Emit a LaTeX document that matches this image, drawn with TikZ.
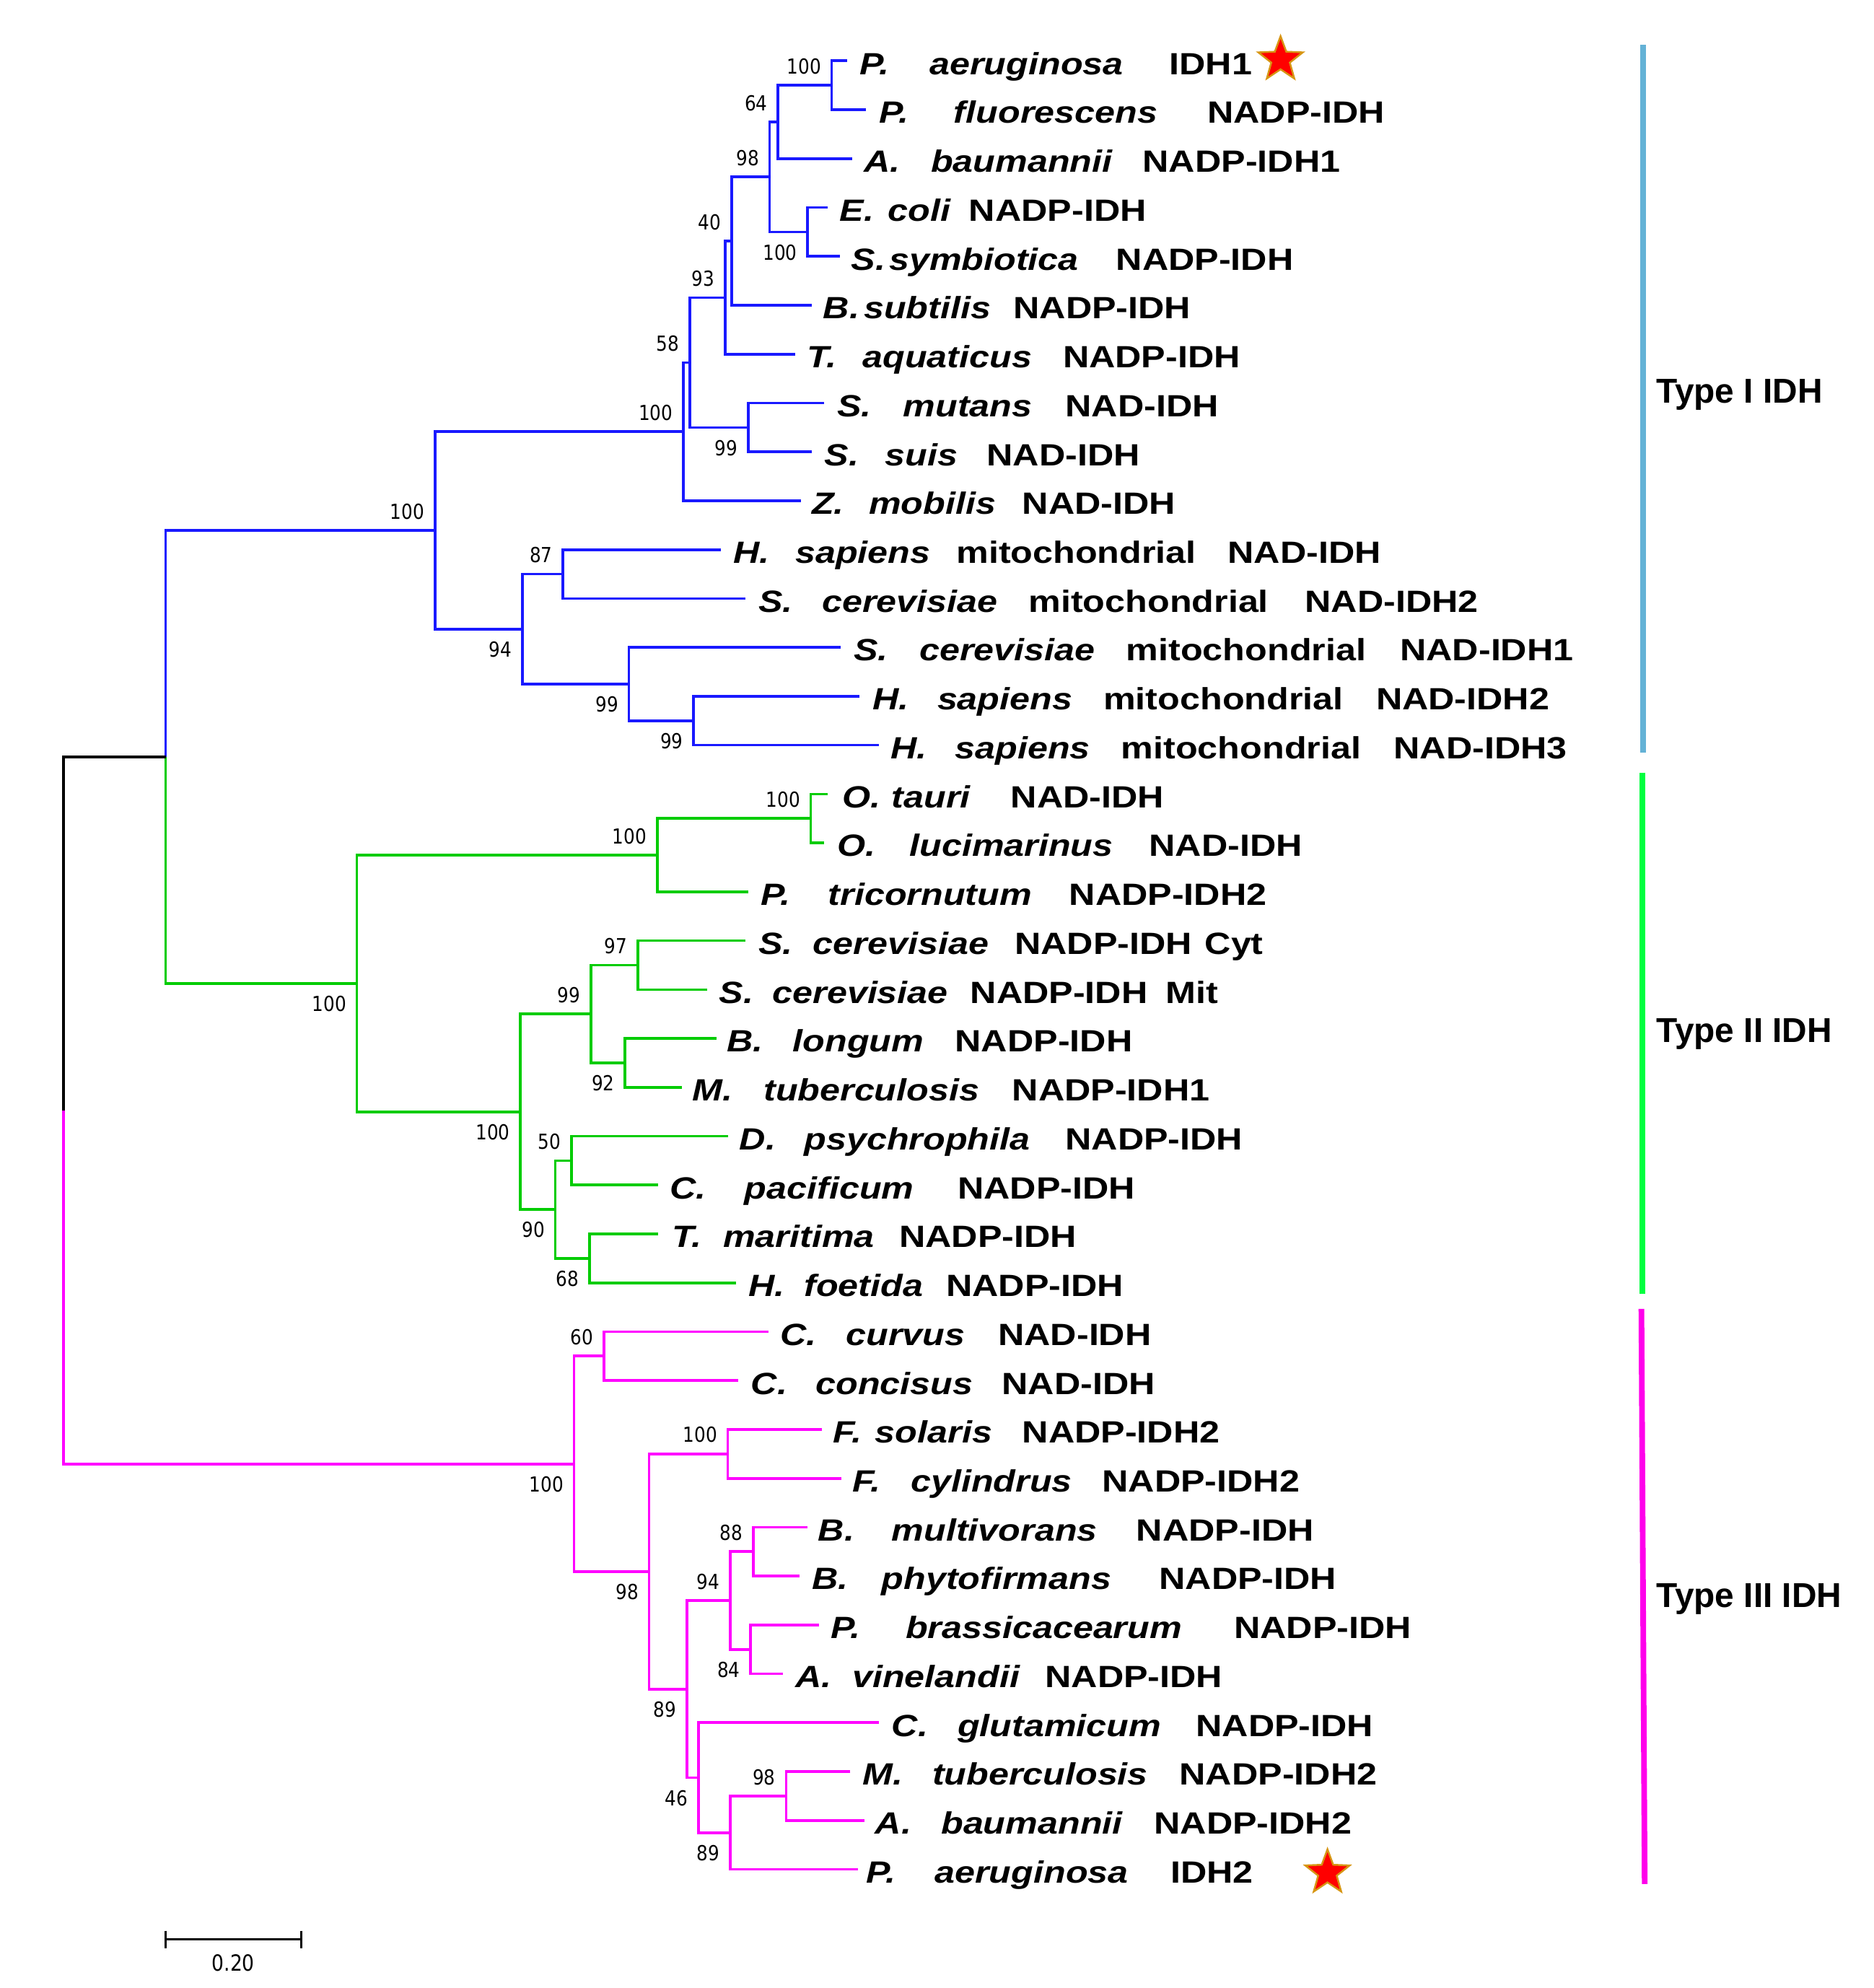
\documentclass[tikz,border=0pt]{standalone}
\usepackage{fontspec}
\setmainfont{Liberation Sans}
\newfontfamily\leaffont{Liberation Sans}[FakeStretch=1.18]
\newfontfamily\bsfont{DejaVu Sans}[FakeStretch=0.86]
\usetikzlibrary{calc,shapes.geometric}
\newlength\pxu
\setlength\pxu{0.02cm}
\newcommand{\wb}[2]{\makebox[#1\pxu][l]{#2}}
\newcommand{\ii}[1]{\textit{#1}}
\definecolor{tblue}{RGB}{25,25,255}
\definecolor{tgreen}{RGB}{0,204,0}
\definecolor{tpink}{RGB}{255,0,255}
\definecolor{barblue}{RGB}{100,178,214}
\definecolor{bargreen}{RGB}{0,255,64}
\definecolor{barpink}{RGB}{255,0,235}
\definecolor{starline}{RGB}{215,150,20}
\tikzset{
  br/.style={line width=1.2pt},
  leaf/.style={anchor=base west,inner sep=0pt,font=\leaffont\bfseries\fontsize{13.8}{16}\selectfont},
  bs/.style={anchor=east,inner sep=0pt,font=\bsfont\fontsize{9.3}{11}\selectfont},
  typ/.style={anchor=base west,inner sep=0pt,font=\bfseries\fontsize{15.5}{18}\selectfont},
  bar/.style={line width=2.55pt},
  idhstar/.style={star,star points=5,star point ratio=2.4,fill=red,draw=starline,line width=0.8pt,minimum size=21pt,inner sep=0pt}
}
\begin{document}
\begin{tikzpicture}[x=0.02cm,y=-0.02cm]
\useasboundingbox (0,0) rectangle (1478,1568);
% leaf tips
\coordinate (l1) at (668,48.0);
\coordinate (l2) at (683,86.6);
\coordinate (l3) at (672,125.1);
\coordinate (l4) at (653,163.7);
\coordinate (l5) at (662.5,202.2);
\coordinate (l6) at (640,240.8);
\coordinate (l7) at (627,279.3);
\coordinate (l8) at (650,317.9);
\coordinate (l9) at (640,356.4);
\coordinate (l10) at (632,395.0);
\coordinate (l11) at (568.6,433.5);
\coordinate (l12) at (588,472.1);
\coordinate (l13) at (663,510.6);
\coordinate (l14) at (678,549.2);
\coordinate (l15) at (693,587.7);
\coordinate (l16) at (653,626.3);
\coordinate (l17) at (650,664.8);
\coordinate (l18) at (590,703.4);
\coordinate (l19) at (588,741.9);
\coordinate (l20) at (557.5,780.5);
\coordinate (l21) at (565,819.0);
\coordinate (l22) at (538,857.6);
\coordinate (l23) at (574.3,896.1);
\coordinate (l24) at (519,934.7);
\coordinate (l25) at (519,973.2);
\coordinate (l26) at (580.4,1011.8);
\coordinate (l27) at (606,1050.3);
\coordinate (l28) at (582.5,1088.9);
\coordinate (l29) at (648.5,1127.4);
\coordinate (l30) at (663.6,1166.0);
\coordinate (l31) at (636.7,1204.5);
\coordinate (l32) at (630.6,1243.1);
\coordinate (l33) at (646,1281.6);
\coordinate (l34) at (617.8,1320.2);
\coordinate (l35) at (693,1358.7);
\coordinate (l36) at (670.7,1397.3);
\coordinate (l37) at (681.6,1435.8);
\coordinate (l38) at (676.8,1474.4);
% internal nodes
\coordinate (N10) at (656,67.3);
\coordinate (N9) at (613.6,96.2);
\coordinate (N8) at (637,183.0);
\coordinate (N7) at (607,139.6);
\coordinate (N6) at (577,190.2);
\coordinate (N5) at (572,234.8);
\coordinate (N4) at (590,337.2);
\coordinate (N3) at (544,286.0);
\coordinate (N2) at (539,340.5);
\coordinate (N12) at (444,452.8);
\coordinate (N14) at (547,568.5);
\coordinate (N13) at (496,539.5);
\coordinate (N11) at (412,496.2);
\coordinate (N1) at (343,418.3);
\coordinate (G3) at (639.4,645.6);
\coordinate (G2) at (518.3,674.5);
\coordinate (G6) at (503,761.2);
\coordinate (G7) at (493,838.3);
\coordinate (G5) at (466,799.7);
\coordinate (G9) at (450.8,915.4);
\coordinate (G10) at (465,992.5);
\coordinate (G8) at (438,954.0);
\coordinate (G4) at (410.5,876.9);
\coordinate (G1) at (281.4,775.7);
\coordinate (A) at (130.7,597.0);
\coordinate (P2) at (476.3,1069.6);
\coordinate (P4) at (574,1146.7);
\coordinate (P7) at (594,1223.8);
\coordinate (P8) at (592,1300.9);
\coordinate (P6) at (575.9,1262.4);
\coordinate (P11) at (620,1416.6);
\coordinate (P10) at (575.9,1445.5);
\coordinate (P9) at (550.8,1402.1);
\coordinate (P5) at (541.8,1332.3);
\coordinate (P3) at (512,1239.5);
\coordinate (P1) at (452.7,1154.6);
\coordinate (R) at (50,875.8);
% branches: blue
\begin{scope}[br,tblue]
\draw (l1) -| (N10) |- (l2);
\draw (N10) -| (N9) |- (l3);
\draw (l4) -| (N8) |- (l5);
\draw (N9) -| (N7) |- (N8);
\draw (N7) -| (N6) |- (l6);
\draw (N6) -| (N5) |- (l7);
\draw (l8) -| (N4) |- (l9);
\draw (N5) -| (N3) |- (N4);
\draw (N3) -| (N2) |- (l10);
\draw (l11) -| (N12) |- (l12);
\draw (l14) -| (N14) |- (l15);
\draw (l13) -| (N13) |- (N14);
\draw (N12) -| (N11) |- (N13);
\draw (N2) -| (N1) |- (N11);
\draw (N1) -| (A);
\end{scope}
% green
\begin{scope}[br,tgreen]
\draw (A) |- (G1);
\draw (l16) -| (G3) |- (l17);
\draw (G3) -| (G2) |- (l18);
\draw (l19) -| (G6) |- (l20);
\draw (l21) -| (G7) |- (l22);
\draw (G6) -| (G5) |- (G7);
\draw (l23) -| (G9) |- (l24);
\draw (l25) -| (G10) |- (l26);
\draw (G9) -| (G8) |- (G10);
\draw (G5) -| (G4) |- (G8);
\draw (G2) -| (G1) |- (G4);
\end{scope}
% root
\draw[br,black] (A) -| (R);
\begin{scope}[br,tpink]
\draw (R) |- (P1);
\draw (l27) -| (P2) |- (l28);
\draw (l29) -| (P4) |- (l30);
\draw (l31) -| (P7) |- (l32);
\draw (l33) -| (P8) |- (l34);
\draw (P7) -| (P6) |- (P8);
\draw (l36) -| (P11) |- (l37);
\draw (P11) -| (P10) |- (l38);
\draw (l35) -| (P9) |- (P10);
\draw (P6) -| (P5) |- (P9);
\draw (P4) -| (P3) |- (P5);
\draw (P2) -| (P1) |- (P3);
\end{scope}
% bootstrap values
\node[bs] (b1) at ($(N10)+(-8,-15)$) {100};
\node[bs] (b2) at ($(N9)+(-8,-15)$) {64};
\node[bs] (b3) at ($(N7)+(-8,-15)$) {98};
\node[bs] (b4) at ($(N6)+(-8,-15)$) {40};
\node[bs] (b5) at ($(N5)+(-8,-15)$) {93};
\node[bs] (b6) at ($(N3)+(-8,-15)$) {58};
\node[bs] (b7) at ($(N2)+(-8,-15)$) {100};
\node[bs] (b8) at ($(N1)+(-8,-15)$) {100};
\node[bs] (b9) at ($(N12)+(-8,-15)$) {87};
\node[bs] (b10) at ($(N8)+(-8,16)$) {100};
\node[bs] (b11) at ($(N4)+(-8,16)$) {99};
\node[bs] (b12) at ($(N11)+(-8,16)$) {94};
\node[bs] (b13) at ($(N13)+(-8,16)$) {99};
\node[bs] (b14) at ($(N14)+(-8,16)$) {99};
\node[bs] (b15) at ($(G3)+(-8,-15)$) {100};
\node[bs] (b16) at ($(G2)+(-8,-15)$) {100};
\node[bs] (b17) at ($(G6)+(-8,-15)$) {97};
\node[bs] (b18) at ($(G5)+(-8,-15)$) {99};
\node[bs] (b19) at ($(G9)+(-8,-15)$) {50};
\node[bs] (b20) at ($(G1)+(-8,16)$) {100};
\node[bs] (b21) at ($(G7)+(-8,16)$) {92};
\node[bs] (b22) at ($(G4)+(-8,16)$) {100};
\node[bs] (b23) at ($(G8)+(-8,16)$) {90};
\node[bs] (b24) at ($(G10)+(-8,16)$) {68};
\node[bs] (b25) at ($(P2)+(-8,-15)$) {60};
\node[bs] (b26) at ($(P4)+(-8,-15)$) {100};
\node[bs] (b27) at ($(P7)+(-8,-15)$) {88};
\node[bs] (b28) at ($(P6)+(-8,-15)$) {94};
\node[bs] (b29) at ($(P11)+(-8,-15)$) {98};
\node[bs] (b30) at ($(P1)+(-8,16)$) {100};
\node[bs] (b31) at ($(P3)+(-8,16)$) {98};
\node[bs] (b32) at ($(P8)+(-8,16)$) {84};
\node[bs] (b33) at ($(P5)+(-8,16)$) {89};
\node[bs] (b34) at ($(P9)+(-8,16)$) {46};
\node[bs] (b35) at ($(P10)+(-8,16)$) {89};
% leaf labels (baseline = line + 10.7)
\node[leaf] (t1) at (678,58.7) {\wb{55}{\ii{P.}}\wb{189}{\ii{aeruginosa}}IDH1};
\node[leaf] (t2) at (693,97.3) {\wb{59}{\ii{P.}}\wb{200}{\ii{fluorescens}}NADP-IDH};
\node[leaf] (t3) at (681,135.8) {\wb{53}{\ii{A.}}\wb{167}{\ii{baumannii}}NADP-IDH1};
\node[leaf] (t4) at (662,174.4) {\wb{38}{\ii{E.}}\wb{64}{\ii{coli}}NADP-IDH};
\node[leaf] (t5) at (671,212.9) {\wb{30}{\ii{S.}}\wb{179}{\ii{symbiotica}}NADP-IDH};
\node[leaf] (t6) at (649,251.5) {\wb{32}{\ii{B.}}\wb{118}{\ii{subtilis}}NADP-IDH};
\node[leaf] (t7) at (636,290.0) {\wb{44}{\ii{T.}}\wb{158}{\ii{aquaticus}}NADP-IDH};
\node[leaf] (t8) at (660,328.6) {\wb{52}{\ii{S.}}\wb{128}{\ii{mutans}}NAD-IDH};
\node[leaf] (t9) at (650,367.1) {\wb{48}{\ii{S.}}\wb{80}{\ii{suis}}NAD-IDH};
\node[leaf] (t10) at (640,405.7) {\wb{45}{\ii{Z.}}\wb{121}{\ii{mobilis}}NAD-IDH};
\node[leaf] (t11) at (578,444.2) {\wb{49}{\ii{H.}}\wb{127}{\ii{sapiens}}\wb{214}{mitochondrial}NAD-IDH};
\node[leaf] (t12) at (598,482.8) {\wb{50}{\ii{S.}}\wb{163}{\ii{cerevisiae}}\wb{218}{mitochondrial}NAD-IDH2};
\node[leaf] (t13) at (673,521.3) {\wb{52}{\ii{S.}}\wb{163}{\ii{cerevisiae}}\wb{216}{mitochondrial}NAD-IDH1};
\node[leaf] (t14) at (688,559.9) {\wb{51}{\ii{H.}}\wb{131}{\ii{sapiens}}\wb{215}{mitochondrial}NAD-IDH2};
\node[leaf] (t15) at (702,598.4) {\wb{51}{\ii{H.}}\wb{131}{\ii{sapiens}}\wb{215}{mitochondrial}NAD-IDH3};
\node[leaf] (t16) at (664,637.0) {\wb{39}{\ii{O.}}\wb{94}{\ii{tauri}}NAD-IDH};
\node[leaf] (t17) at (660,675.5) {\wb{57}{\ii{O.}}\wb{189}{\ii{lucimarinus}}NAD-IDH};
\node[leaf] (t18) at (600,714.1) {\wb{53}{\ii{P.}}\wb{190}{\ii{tricornutum}}NADP-IDH2};
\node[leaf] (t19) at (598,752.6) {\wb{43}{\ii{S.}}\wb{159}{\ii{cerevisiae}}\wb{150}{NADP-IDH}Cyt};
\node[leaf] (t20) at (567,791.2) {\wb{42}{\ii{S.}}\wb{156}{\ii{cerevisiae}}\wb{154}{NADP-IDH}Mit};
\node[leaf] (t21) at (573,829.7) {\wb{52}{\ii{B.}}\wb{128}{\ii{longum}}NADP-IDH};
\node[leaf] (t22) at (546,868.3) {\wb{56}{\ii{M.}}\wb{196}{\ii{tuberculosis}}NADP-IDH1};
\node[leaf] (t23) at (583,906.8) {\wb{51}{\ii{D.}}\wb{206}{\ii{psychrophila}}NADP-IDH};
\node[leaf] (t24) at (528,945.4) {\wb{59}{\ii{C.}}\wb{168}{\ii{pacificum}}NADP-IDH};
\node[leaf] (t25) at (530,983.9) {\wb{40}{\ii{T.}}\wb{139}{\ii{maritima}}NADP-IDH};
\node[leaf] (t26) at (590,1022.5) {\wb{44}{\ii{H.}}\wb{112}{\ii{foetida}}NADP-IDH};
\node[leaf] (t27) at (615,1061.0) {\wb{52}{\ii{C.}}\wb{120}{\ii{curvus}}NAD-IDH};
\node[leaf] (t28) at (592,1099.6) {\wb{51}{\ii{C.}}\wb{147}{\ii{concisus}}NAD-IDH};
\node[leaf] (t29) at (657,1138.1) {\wb{33}{\ii{F.}}\wb{116}{\ii{solaris}}NADP-IDH2};
\node[leaf] (t30) at (672,1176.7) {\wb{46}{\ii{F.}}\wb{151}{\ii{cylindrus}}NADP-IDH2};
\node[leaf] (t31) at (645,1215.2) {\wb{58}{\ii{B.}}\wb{193}{\ii{multivorans}}NADP-IDH};
\node[leaf] (t32) at (640,1253.8) {\wb{55}{\ii{B.}}\wb{219}{\ii{phytofirmans}}NADP-IDH};
\node[leaf] (t33) at (655,1292.3) {\wb{59}{\ii{P.}}\wb{259}{\ii{brassicacearum}}NADP-IDH};
\node[leaf] (t34) at (627,1330.9) {\wb{45}{\ii{A.}}\wb{152}{\ii{vinelandii}}NADP-IDH};
\node[leaf] (t35) at (703,1369.4) {\wb{52}{\ii{C.}}\wb{188}{\ii{glutamicum}}NADP-IDH};
\node[leaf] (t36) at (680,1408.0) {\wb{55}{\ii{M.}}\wb{195}{\ii{tuberculosis}}NADP-IDH2};
\node[leaf] (t37) at (690,1446.5) {\wb{52}{\ii{A.}}\wb{168}{\ii{baumannii}}NADP-IDH2};
\node[leaf] (t38) at (683,1485.1) {\wb{54}{\ii{P.}}\wb{186}{\ii{aeruginosa}}IDH2};
% stars
\node[idhstar] (s1) at (1010,47) {};
\node[idhstar] (s2) at (1047,1477) {};
% group bars
\draw[bar,barblue] (1296,35.4) -- (1296,593.4);
\draw[bar,bargreen] (1295.5,609.5) -- (1295.5,1020.6);
\draw[bar,barpink] (1294.6,1032.3) -- (1297.2,1486);
\node[typ] (ty1) at (1306,317.6) {Type I IDH};
\node[typ] (ty2) at (1306,822) {Type II IDH};
\node[typ] (ty3) at (1306,1268) {Type III IDH};
% scale bar
\coordinate (sc1) at (130.5,1529.6);
\coordinate (sc2) at (237.5,1529.6);
\draw[line width=0.9pt] (sc1) -- (sc2);
\draw[line width=0.9pt] ($(sc1)+(0,-6.8)$) -- ($(sc1)+(0,6.8)$);
\draw[line width=0.9pt] ($(sc2)+(0,-6.8)$) -- ($(sc2)+(0,6.8)$);
\node[inner sep=0pt,font=\bsfont\fontsize{10}{12}\selectfont] (sclab) at (184,1548) {0.20};
\end{tikzpicture}
\end{document}
